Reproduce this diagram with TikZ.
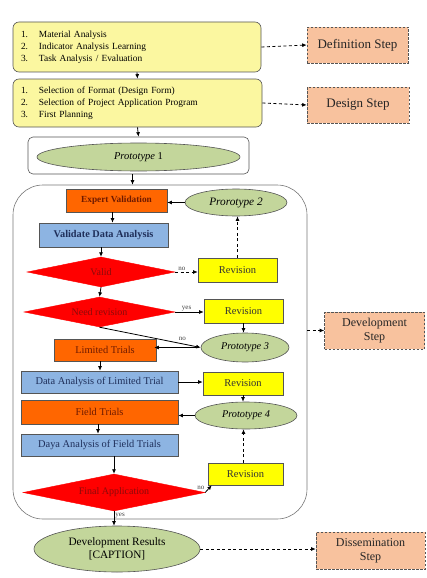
\documentclass[tikz,border=0pt]{standalone}
\usepackage{fontspec}
\setmainfont{Liberation Serif}
\usetikzlibrary{shapes.geometric,arrows.meta}
\definecolor{ylw}{HTML}{FBF7A0}
\definecolor{stepfill}{HTML}{F8C29E}
\definecolor{olive}{HTML}{C3D69B}
\definecolor{orng}{HTML}{FF6600}
\definecolor{blu}{HTML}{8DB4E2}
\definecolor{rvs}{HTML}{FFFF00}
\definecolor{dred}{HTML}{8B0A0A}
\definecolor{ornT}{HTML}{6E1A00}
\definecolor{bluT}{HTML}{1F2F5A}
\definecolor{edge}{HTML}{555555}
\tikzset{
  x=1pt,y=-1pt,
  arr/.style={draw=black,line width=0.8pt,-{Latex[length=4.5pt,width=4pt]}},
  darr/.style={arr,dashed,dash pattern=on 3pt off 2.5pt},
  listbox/.style={draw=edge,fill=ylw,rounded corners=6pt,line width=0.6pt,minimum width=#1,inner sep=0pt,text width=#1-16pt,align=left,font=\fontsize{9.4}{12}\selectfont},
  stepbox/.style={draw=edge,fill=stepfill,dashed,dash pattern=on 2.5pt off 1.5pt,line width=0.6pt,inner sep=0pt,align=center,text=black!85},
  oval/.style={ellipse,draw=edge,fill=olive,line width=0.6pt,inner sep=0pt},
  obox/.style={draw=edge,fill=orng,line width=0.6pt,inner sep=0pt,text=ornT,font=\fontsize{10.4}{11}\selectfont},
  bbox/.style={draw=edge,fill=blu,line width=0.6pt,inner sep=0pt,text=bluT,font=\fontsize{10.4}{11}\selectfont},
  rbox/.style={draw=edge,fill=rvs,line width=0.6pt,inner sep=0pt,text=black!80,font=\fontsize{10.5}{11}\selectfont,minimum height=23pt},
  dia/.style={diamond,fill=red,draw=red,inner sep=0pt,aspect=5,text=dred,font=\fontsize{10}{11}\selectfont},
  lbl/.style={font=\fontsize{7}{8}\selectfont,text=black!75,inner sep=1pt}
}
\begin{document}
\begin{tikzpicture}
\useasboundingbox (0,0) rectangle (426,578);
% definition
\node[listbox=248pt,minimum height=50pt] (b1) at (137,47)
  {\begin{tabular}{@{}p{12pt}@{\hspace{6pt}}l@{}}1.&Material Analysis\\2.&Indicator Analysis Learning\\3.&Task Analysis / Evaluation\end{tabular}};
\node[stepbox,minimum width=101pt,minimum height=36pt,font=\fontsize{13}{15}\selectfont] (defs) at (357.5,45) {Definition Step};
\node[listbox=249pt,minimum height=48pt] (b2) at (137.5,103)
  {\begin{tabular}{@{}p{12pt}@{\hspace{6pt}}l@{}}1.&Selection of Format (Design Form)\\2.&Selection of Project Application Program\\3.&First Planning\end{tabular}};
\node[stepbox,minimum width=102pt,minimum height=36pt,font=\fontsize{13}{15}\selectfont] (desg) at (358,105) {Design Step};
% prototype 1
\node[draw=edge,fill=white,rounded corners=5pt,line width=0.6pt,minimum width=221pt,minimum height=37pt,inner sep=0pt] (c1) at (138.5,155.5) {};
\node[oval,minimum width=203pt,minimum height=28pt,font=\fontsize{10.5}{12}\selectfont] (p1) at (138.5,157) {\textit{Prototype} 1};
% development container
\node[draw=edge!80,rounded corners=30pt,line width=0.6pt,minimum width=294pt,minimum height=334pt,inner sep=0pt] (dev) at (160,352) {};
\node[obox,minimum width=101pt,minimum height=23pt,font=\fontsize{9.3}{10}\selectfont] (ev) at (116.5,200.5) {\textbf{Expert Validation}};
\node[oval,minimum width=102pt,minimum height=27pt,font=\fontsize{11.3}{12}\selectfont] (p2) at (236,202.5) {\textit{Prorotype 2}};
\node[bbox,minimum width=129pt,minimum height=24pt,font=\fontsize{10.3}{11}\selectfont] (vda) at (103.5,235) {\textbf{Validate Data Analysis}};
\node[dia,minimum width=148pt,minimum height=30pt] (valid) at (101,272) {Valid};
\node[rbox,minimum width=79pt,minimum height=24pt] (rev1) at (237.5,270) {Revision};
\node[dia,minimum width=151pt,minimum height=30pt] (need) at (99.5,312) {Need revision};
\node[rbox,minimum width=79pt,minimum height=24pt] (rev2) at (243.5,311) {Revision};
\node[oval,minimum width=88pt,minimum height=29pt,font=\fontsize{10.3}{11}\selectfont] (p3) at (245,347.5) {\textit{Prototype 3}};
\node[obox,minimum width=102pt,minimum height=22pt] (lt) at (105,350) {Limited Trials};
\node[bbox,minimum width=157pt,minimum height=22pt] (dalt) at (99.5,382) {Data Analysis of Limited Trial};
\node[rbox,minimum width=80pt] (rev3) at (243,383.5) {Revision};
\node[oval,minimum width=102pt,minimum height=27pt,font=\fontsize{10.3}{11}\selectfont] (p4) at (246,415.5) {\textit{Prototype 4}};
\node[obox,minimum width=157pt,minimum height=24pt] (ft) at (99.5,412) {Field Trials};
\node[bbox,minimum width=157pt,minimum height=22pt] (daft) at (99.5,445) {Daya Analysis of Field Trials};
\node[rbox,minimum width=75pt,minimum height=22pt] (rev4) at (245.5,474) {Revision};
\node[dia,minimum width=182pt,minimum height=37pt] (fa) at (114,492.5) {Final Application};
\node[stepbox,minimum width=100pt,minimum height=37pt,font=\fontsize{12}{14}\selectfont] (devs) at (374.5,330.5) {Development\\Step};
% results
\node[oval,minimum width=166pt,minimum height=46pt,align=center,font=\fontsize{11.3}{13}\selectfont] (dr) at (117,549) {Development Results\\{[}CAPTION{]}};
\node[stepbox,minimum width=109pt,minimum height=37pt,font=\fontsize{12}{14}\selectfont] (diss) at (370.5,550.5) {Dissemination\\Step};
% connectors
\draw[darr] (b1.east) -- (defs.west);
\draw[darr] (b2.east) -- (desg.west);
\draw[arr] (b1.south) -- (b2.north);
\draw[arr] (b2.south) -- (c1.north);
\draw[arr] ([xshift=-6pt]c1.south) -- ([xshift=-6pt]c1.south |- dev.north);
\draw[arr] (p2.west) -- (p2.west -| ev.east);
\draw[arr] ([xshift=-4pt]ev.south) -- ([xshift=-4pt]ev.south |- vda.north);
\draw[arr] (valid.north |- vda.south) -- (valid.north);
\draw[darr] (valid.east) -- node[lbl,above,pos=0.3] (lno1) {no} (valid.east -| rev1.west);
\draw[darr] (rev1.north) -- (rev1.north |- p2.south);
\draw[arr] (valid.south) -- (need.north);
\draw[arr] (need.east) -- node[lbl,above,pos=0.4] (lyes1) {yes} (need.east -| rev2.west);
\draw[arr] (rev2.south) -- (rev2.south |- p3.north);
\draw[arr] (need.south) -- node[lbl,above,pos=0.82,yshift=2pt] (lno2) {no} (p3.west);
\draw[arr] ([xshift=-2pt]p3.west) -- ([xshift=-2pt]p3.west -| lt.east);
\draw[arr] ([xshift=-5pt]lt.south) -- ([xshift=-5pt]lt.south |- dalt.north);
\draw[arr] (dalt.east) -- (dalt.east -| rev3.west);
\draw[arr] (rev3.south) -- (rev3.south |- p4.north);
\draw[arr] (p4.west) -- (p4.west -| ft.east);
\draw[arr] ([xshift=-1.5pt]ft.south) -- ([xshift=-1.5pt]ft.south |- daft.north);
\draw[arr] (fa.north |- daft.south) -- (fa.north);
\draw[arr] (fa.east) -- node[lbl,above left,pos=0.1,yshift=1pt] (lno3) {no} ([xshift=4pt]rev4.south west);
\draw[darr] ([xshift=-2pt]rev4.north) -- ([xshift=-2pt]rev4.north |- p4.south);
\draw[arr] (fa.south) -- node[lbl,right,pos=0.3] (lyes2) {yes} (fa.south |- dr.north);
\draw[darr] (dr.east) -- (dr.east -| diss.west);
\draw[darr] (dev.east |- devs.west) -- (devs.west);
\end{tikzpicture}
\end{document}
